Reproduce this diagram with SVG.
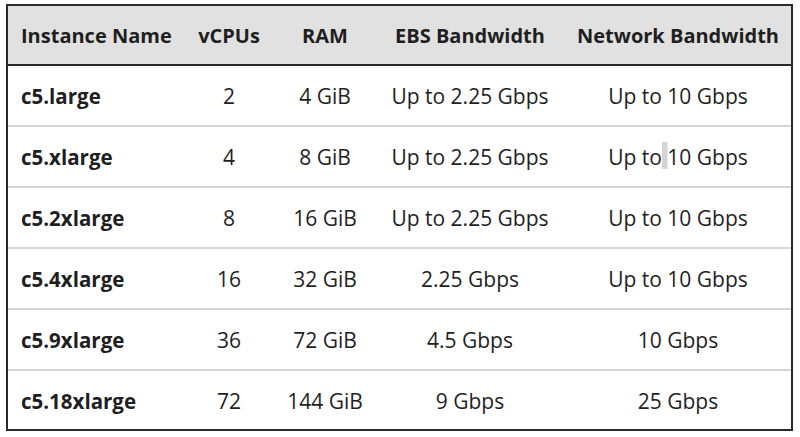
<svg xmlns="http://www.w3.org/2000/svg" width="800" height="437" viewBox="0 0 800 437">
<style>
text{font-family:"Open Sans","Liberation Sans",sans-serif;fill:#1f1f1f}
.h{font-weight:bold;font-size:20px;text-anchor:middle}
.hl{font-weight:bold;font-size:20px}
.n{font-weight:bold;font-size:20.5px}
.c{font-size:21px;text-anchor:middle}
.sep{stroke:#d6d6d6;stroke-width:2}
</style>
<rect x="0" y="0" width="800" height="437" fill="#ffffff"/>
<g id="header">
<rect x="7" y="5" width="785" height="60" fill="#e1e1e1"/>
<text class="hl" x="21" y="43">Instance Name</text>
<text class="h" x="229" y="43">vCPUs</text>
<text class="h" x="325" y="43">RAM</text>
<text class="h" x="470" y="43">EBS Bandwidth</text>
<text class="h" x="678" y="43">Network Bandwidth</text>
</g>
<g id="lines">
<line x1="7" y1="65" x2="792" y2="65" stroke="#2a2a2a" stroke-width="2"/>
<line class="sep" x1="8" y1="126" x2="791" y2="126"/>
<line class="sep" x1="8" y1="187" x2="791" y2="187"/>
<line class="sep" x1="8" y1="248" x2="791" y2="248"/>
<line class="sep" x1="8" y1="309" x2="791" y2="309"/>
<line class="sep" x1="8" y1="370" x2="791" y2="370"/>
<rect x="7" y="5" width="785" height="425" fill="none" stroke="#2a2a2a" stroke-width="2"/>
</g>
<g id="row1">
<text class="n" x="21" y="104">c5.large</text>
<text class="c" x="229" y="104">2</text>
<text class="c" x="325" y="104">4 GiB</text>
<text class="c" x="470" y="104">Up to 2.25 Gbps</text>
<text class="c" x="678" y="104">Up to 10 Gbps</text>
</g>
<g id="row2">
<rect x="662" y="142" width="5.5" height="27" fill="#d4d4d4"/>
<text class="n" x="21" y="165">c5.xlarge</text>
<text class="c" x="229" y="165">4</text>
<text class="c" x="325" y="165">8 GiB</text>
<text class="c" x="470" y="165">Up to 2.25 Gbps</text>
<text class="c" x="678" y="165">Up to 10 Gbps</text>
</g>
<g id="row3">
<text class="n" x="21" y="226">c5.2xlarge</text>
<text class="c" x="229" y="226">8</text>
<text class="c" x="325" y="226">16 GiB</text>
<text class="c" x="470" y="226">Up to 2.25 Gbps</text>
<text class="c" x="678" y="226">Up to 10 Gbps</text>
</g>
<g id="row4">
<text class="n" x="21" y="287">c5.4xlarge</text>
<text class="c" x="229" y="287">16</text>
<text class="c" x="325" y="287">32 GiB</text>
<text class="c" x="470" y="287">2.25 Gbps</text>
<text class="c" x="678" y="287">Up to 10 Gbps</text>
</g>
<g id="row5">
<text class="n" x="21" y="348">c5.9xlarge</text>
<text class="c" x="229" y="348">36</text>
<text class="c" x="325" y="348">72 GiB</text>
<text class="c" x="470" y="348">4.5 Gbps</text>
<text class="c" x="678" y="348">10 Gbps</text>
</g>
<g id="row6">
<text class="n" x="21" y="409">c5.18xlarge</text>
<text class="c" x="229" y="409">72</text>
<text class="c" x="325" y="409">144 GiB</text>
<text class="c" x="470" y="409">9 Gbps</text>
<text class="c" x="678" y="409">25 Gbps</text>
</g>
</svg>
